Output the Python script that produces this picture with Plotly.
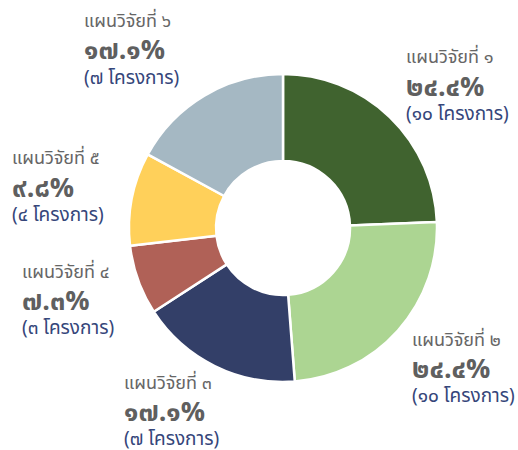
import plotly.graph_objects as go

plans = ["แผนวิจัยที่ ๑", "แผนวิจัยที่ ๒", "แผนวิจัยที่ ๓", "แผนวิจัยที่ ๔", "แผนวิจัยที่ ๕", "แผนวิจัยที่ ๖"]
projects = [10, 10, 7, 3, 4, 7]
colors = ["#40632f", "#acd592", "#333f68", "#b06157", "#ffd05a", "#a5b8c3"]

# label block anchor (left x, title-line y) in pixels
label_pos = [(404, 58), (410, 340), (122, 383), (20, 272), (10, 159), (82, 22)]

W, H = 518, 450
cx, cy, r = 283, 228, 154

TH = str.maketrans("0123456789", "๐๑๒๓๔๕๖๗๘๙")
total = sum(projects)

fig = go.Figure(go.Pie(
    labels=plans, values=projects, sort=False, direction="clockwise", rotation=0,
    hole=0.435, marker=dict(colors=colors, line=dict(color="white", width=2.5)),
    textinfo="none", hoverinfo="label+percent", showlegend=False,
    domain=dict(x=[(cx - r) / W, (cx + r) / W], y=[(H - cy - r) / H, (H - cy + r) / H]),
))

font = "Noto Sans Thai, Noto Sans, sans-serif"
ann = []
for name, v, (lx, ly) in zip(plans, projects, label_pos):
    pct = f"{v / total * 100:.1f}%".translate(TH)
    cnt = f"({str(v).translate(TH)} โครงการ)"
    for text, dy, size, col, bold in [(name, 0, 18, "#666666", False),
                                      (pct, 29, 27, "#5f5f5f", True),
                                      (cnt, 56, 19, "#35467a", False)]:
        ann.append(dict(x=lx / W, y=1 - (ly + dy) / H, xref="paper", yref="paper",
                        xanchor="left", yanchor="middle", showarrow=False,
                        text=f"<b>{text}</b>" if bold else text,
                        font=dict(family=font, size=size, color=col)))

fig.update_layout(width=W, height=H, margin=dict(l=0, r=0, t=0, b=0),
                  paper_bgcolor="white", plot_bgcolor="white", annotations=ann)
fig.write_html("out.html", config={"displayModeBar": False},
               post_script="document.body.style.margin='0';")
